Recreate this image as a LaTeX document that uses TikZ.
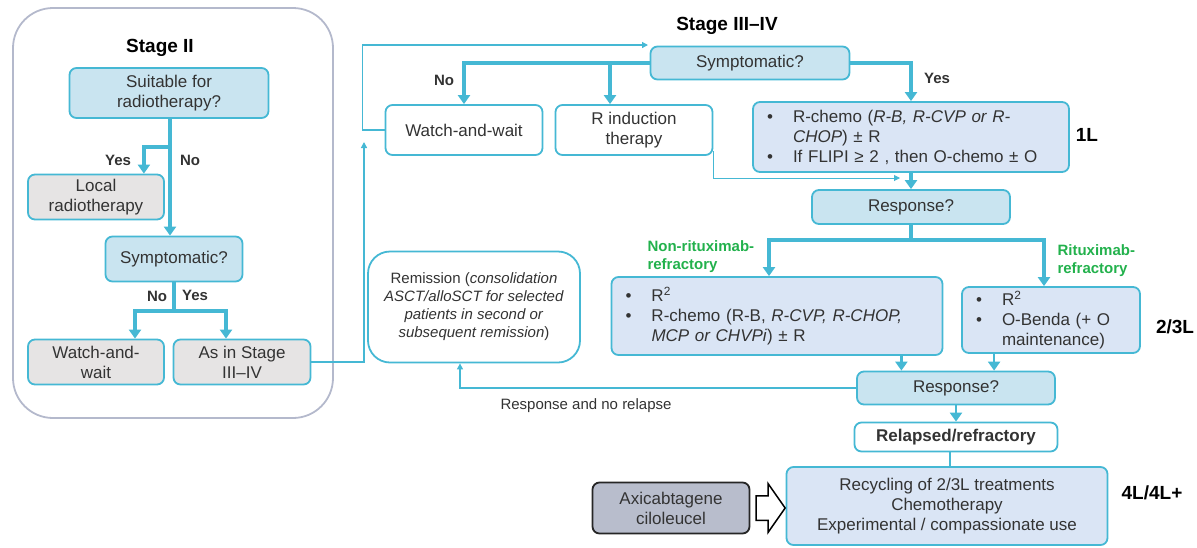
\documentclass[tikz,border=0pt]{standalone}
\usepackage{fontspec}
\setmainfont{Liberation Sans}
\usetikzlibrary{arrows.meta,positioning,shapes.arrows}

\definecolor{boxline}{HTML}{45B8D4}
\definecolor{askfill}{HTML}{C9E4F0}
\definecolor{treatfill}{HTML}{DAE5F5}
\definecolor{greyfill}{HTML}{E6E4E4}
\definecolor{framegrey}{HTML}{B4B9CC}
\definecolor{txtgrey}{HTML}{333333}
\definecolor{refgreen}{HTML}{22B14C}
\definecolor{axifill}{HTML}{B8BDCC}

\newcommand{\bul}[1]{\makebox[26pt][l]{\textbullet}#1}
\newcommand{\bcont}[1]{\hspace*{26pt}#1}

\tikzset{
  box/.style={draw=boxline, line width=1.8pt, rounded corners=7pt, text=txtgrey,
    font=\fontsize{17}{20}\selectfont, align=center, inner sep=0pt},
  askbox/.style={box, fill=askfill},
  greybox/.style={box, fill=greyfill},
  whitebox/.style={box, fill=white},
  treatbox/.style={box, fill=treatfill, align=left, inner xsep=14pt},
  flow/.style={draw=boxline, line width=3.5pt, -{Triangle[width=12pt,length=9pt]}},
  trunk/.style={draw=boxline, line width=3.5pt},
  thinflow/.style={draw=boxline, line width=1.3pt, -{Triangle[width=6pt,length=6pt]}},
  lab/.style={font=\bfseries\fontsize{15}{17}\selectfont, text=txtgrey},
  linelab/.style={font=\bfseries\fontsize{19}{21}\selectfont, text=black},
  greenlab/.style={font=\bfseries\fontsize{15}{18}\selectfont, text=refgreen, align=left, anchor=west}
}

\begin{document}
\begin{tikzpicture}[x=1pt,y=-1pt]
\useasboundingbox (0,0) rectangle (1197,547);

% Stage II frame
\draw [framegrey, line width=1.8pt, rounded corners=40pt] (13,8) rectangle (333,418);
\node [linelab] (s2title) at (160,48) {Stage II};

\node [askbox, minimum width=199pt, minimum height=50pt] (s2fit) at (169,93) {Suitable for\\radiotherapy?};
\node [greybox, minimum width=136pt, minimum height=45pt] (s2local) at (96,197) {Local\\radiotherapy};
\node [askbox, minimum width=137pt, minimum height=45pt] (s2sym) at (174,259) {Symptomatic?};
\node [greybox, minimum width=136pt, minimum height=45pt] (s2ww) at (96,362) {Watch-and-\\wait};
\node [greybox, minimum width=137pt, minimum height=45pt] (s2as) at (242,362) {As in Stage\\III–IV};

\coordinate (s2fork) at (170,147);
\coordinate (s2fork2) at (174,311);
\draw [flow] (s2fit.south -| s2fork) -- (s2fork |- s2sym.north);
\draw [flow] (s2fork) -| ([xshift=-21pt]s2local.north east);
\node [lab] (s2yes) at (118,160) {Yes};
\node [lab] (s2no) at (190,160) {No};

\draw [trunk] (s2sym.south) -- (s2fork2);
\draw [flow] (s2fork2) -| ([xshift=39pt]s2ww.north);
\draw [flow] (s2fork2) -| ([xshift=-16pt]s2as.north);
\node [lab] (s2no2) at (157,296) {No};
\node [lab] (s2yes2) at (195,295) {Yes};

% Stage III-IV
\node [linelab] (s3title) at (727,26) {Stage III–IV};
\node [askbox, minimum width=199pt, minimum height=33pt] (s3sym) at (750,63) {Symptomatic?};
\node [whitebox, minimum width=157pt, minimum height=50pt] (s3ww) at (464,130) {Watch-and-wait};
\node [whitebox, minimum width=157pt, minimum height=50pt] (s3rind) at (634,130) {R induction\\therapy};
\node [treatbox, text width=288pt, minimum height=70pt] (s3first) at (911,137)
  {\bul{R-chemo (\textit{R-B, R-CVP or R-}}\\\bcont{\textit{CHOP}) ± R}\\\bul{If FLIPI ≥ 2 , then O-chemo ± O}};
\node [linelab] (lab1) at (1087,135) {1L};

\node [askbox, minimum width=198pt, minimum height=34pt] (s3resp) at (911,207) {Response?};
\node [treatbox, text width=303pt, minimum height=78pt] (s3nonr) at (777,316)
  {\bul{R\textsuperscript{2}}\\\bul{R-chemo (R-B, \textit{R-CVP, R-CHOP,}}\\\bcont{\textit{MCP or CHVPi}) ± R}};
\node [treatbox, text width=150pt, minimum height=66pt] (s3rtx) at (1051,320)
  {\bul{R\textsuperscript{2}}\\\bul{O-Benda (+ O}\\\bcont{maintenance)}};
\node [linelab] (lab23) at (1175,327) {2/3L};
\node [greenlab] (nonrlab) at (644,257) {Non-rituximab-\\refractory};
\node [greenlab] (rtxlab) at (1054,261) {Rituximab-\\refractory};

\node [askbox, minimum width=198pt, minimum height=33pt] (s3resp2) at (956,388) {Response?};
\node [whitebox, minimum width=203pt, minimum height=29pt, font=\bfseries\fontsize{17}{20}\selectfont] (s3relref) at (956,437) {Relapsed/refractory};
\node [box, fill=treatfill, minimum width=321pt, minimum height=78pt] (s3recyc) at (947,506)
  {Recycling of 2/3L treatments\\Chemotherapy\\Experimental / compassionate use};
\node [linelab] (lab4) at (1152,493) {4L/4L+};
\node [box, draw=black!85, fill=axifill, minimum width=157pt, minimum height=51pt] (axi) at (671,508) {Axicabtagene\\ciloleucel};
\node [single arrow, draw=black, line width=1.5pt, fill=white, minimum height=29pt,
  inner xsep=0pt, inner ysep=11.5pt, single arrow head extend=12pt, single arrow tip angle=110] (axiarrow) [right=5pt of axi] {};

\node [box, fill=white, rounded corners=22pt, minimum width=212pt, minimum height=111pt,
  font=\fontsize{15}{18}\selectfont] (remis) at (474,307)
  {Remission (\textit{consolidation}\\\textit{ASCT/alloSCT for selected}\\\textit{patients in second or}\\\textit{subsequent remission})};

% connectors Stage III-IV
\coordinate (s3top) at (648,45);
\coordinate (s2up) at (364,142);
\coordinate (s3join) at (900,178);
\coordinate (s3fork) at (911,240);
\draw [thinflow] (s2as.east) -| (s2up);
\draw [thinflow] (s3ww.west) -- ++(-22,0) |- (s3top);
\draw [flow] (s3sym.west) -| (s3ww.north);
\draw [flow] (s3sym.west -| s3rind.north) ++(-24,0) -- ([xshift=-24pt]s3rind.north);
\draw [flow] (s3sym.east) -| (s3first.north);
\node [lab] (s3no) at (444,80) {No};
\node [lab] (s3yes) at (937,78) {Yes};

\draw [thinflow, line width=1pt] ([yshift=5pt]s3rind.south east) |- (s3join);
\draw [flow] (s3first.south) -- (s3resp.north);
\draw [trunk] (s3resp.south) -- (s3fork);
\draw [flow] (s3fork) -| ([xshift=-8pt]s3nonr.north);
\draw [flow] (s3fork) -| ([xshift=-7pt]s3rtx.north);
\draw [flow, line width=2.5pt] ([xshift=-42pt]s3nonr.south east) -- ([xshift=-42pt]s3nonr.south east |- s3resp2.north);
\draw [flow, line width=2.5pt] ([xshift=33pt]s3rtx.south west) -- ([xshift=33pt]s3rtx.south west |- s3resp2.north);
\draw [flow, line width=2.5pt] (s3resp2.south) -- (s3relref.north);
\draw [boxline, line width=2.5pt] ([xshift=-6pt]s3relref.south) -- ([xshift=-6pt]s3relref.south |- s3recyc.north);
\draw [thinflow] (s3resp2.west) -| ([xshift=-14pt]remis.south);
\node [font=\fontsize{15}{18}\selectfont, text=txtgrey] (nolapse) at (586,406) {Response and no relapse};
\end{tikzpicture}
\end{document}
